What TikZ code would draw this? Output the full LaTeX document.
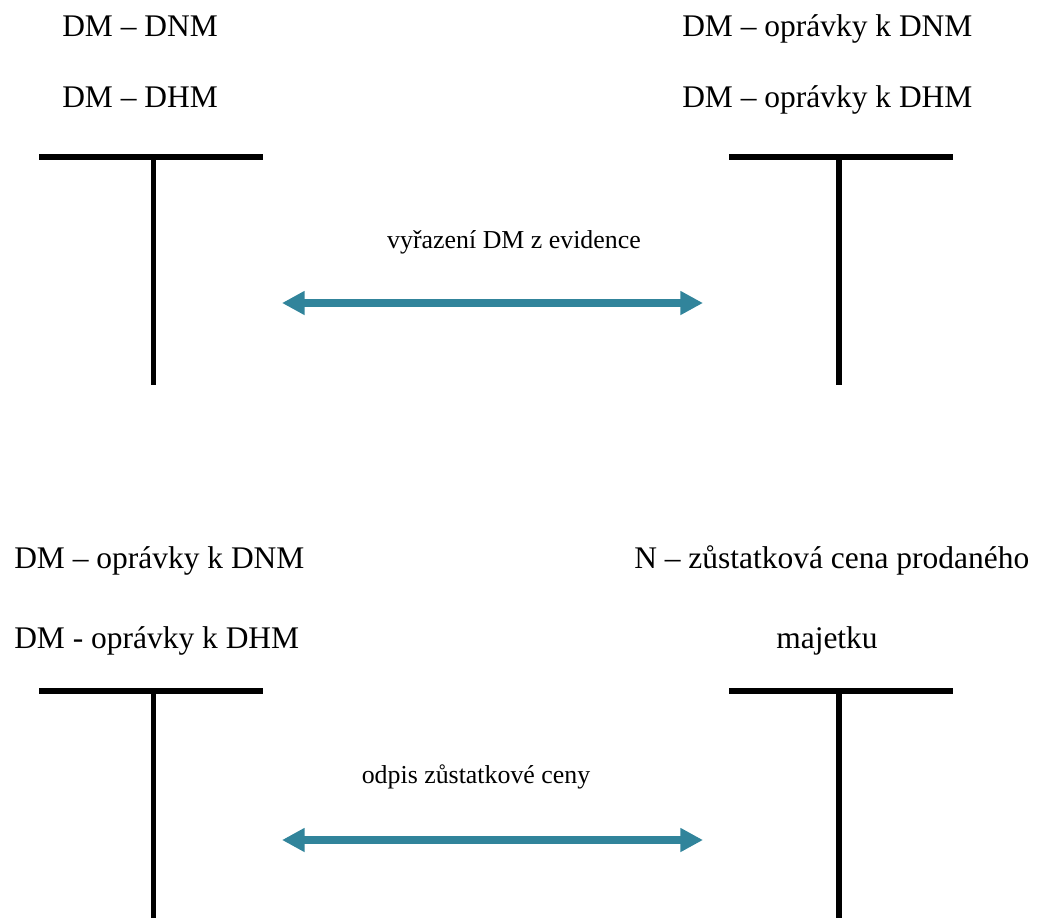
\documentclass[tikz,border=0pt]{standalone}
\usepackage{fontspec}
\setmainfont{Liberation Serif}
\usetikzlibrary{arrows.meta}
\definecolor{tealarrow}{HTML}{31849B}
\tikzset{
  tacc/.style={black, line width=3.8pt},
  title/.style={anchor=base west, inner sep=0pt, font=\fontsize{23.6}{28}\selectfont},
  entry/.style={anchor=base, inner sep=0pt, font=\fontsize{19.4}{23}\selectfont},
  flow/.style={tealarrow, line width=6pt, {Triangle[length=17pt,width=17pt]}-{Triangle[length=17pt,width=17pt]}}
}
\begin{document}
\begin{tikzpicture}[x=0.75pt, y=-0.75pt]
\useasboundingbox (0,0) rectangle (1046,918);
% top pair of accounts
\node[title] (dnm) at (62,36) {DM – DNM};
\node[title] (dhm) at (62,107) {DM – DHM};
\node[title] (oprdnm) at (682,36) {DM – oprávky k DNM};
\node[title] (oprdhm) at (682,107) {DM – oprávky k DHM};
\draw[tacc] (39,157) -- (263,157);
\draw[tacc] (153.5,157) -- (153.5,385);
\draw[tacc] (729,157) -- (953,157);
\draw[tacc] (839,157) -- (839,385);
\node[entry] (vyr) at (514,248) {vyřazení DM z evidence};
\coordinate (a1) at (282,303);
\coordinate (b1) at (703,303);
\draw[flow] (a1) -- (b1);
% bottom pair of accounts
\node[title] (oprdnm2) at (14,568) {DM – oprávky k DNM};
\node[title] (oprdhm2) at (14,648) {DM - oprávky k DHM};
\node[title] (zc) at (634,568) {N – zůstatková cena prodaného};
\node[title, anchor=base] (maj) at (827,648) {majetku};
\draw[tacc] (39,691) -- (263,691);
\draw[tacc] (153.5,691) -- (153.5,918);
\draw[tacc] (729,691) -- (953,691);
\draw[tacc] (839,691) -- (839,918);
\node[entry] (odp) at (476,783) {odpis zůstatkové ceny};
\coordinate (a2) at (282,840);
\coordinate (b2) at (703,840);
\draw[flow] (a2) -- (b2);
\end{tikzpicture}
\end{document}
